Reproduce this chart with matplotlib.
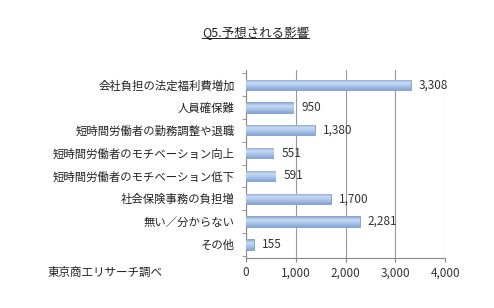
import numpy as np
import matplotlib
matplotlib.use('Agg')
import matplotlib.pyplot as plt
from matplotlib.lines import Line2D

plt.rcParams['font.family'] = ['Noto Sans CJK JP', 'DejaVu Sans']

# Data
categories = ['会社負担の法定福利費増加', '人員確保難', '短時間労働者の勤務調整や退職',
              '短時間労働者のモチベーション向上', '短時間労働者のモチベーション低下',
              '社会保険事務の負担増', '無い／分からない', 'その他']
values = [3308, 950, 1380, 551, 591, 1700, 2281, 155]
xticks = [0, 1000, 2000, 3000, 4000]
title = 'Q5.予想される影響'
source = '東京商工リサーチ調べ'

fig = plt.figure(figsize=(4.94, 3.08), dpi=100, facecolor='white')
ax = fig.add_axes([0.498, 0.162, 0.403, 0.611])

y = np.arange(len(categories))
bars = ax.barh(y, values, height=0.45, color='#A4BFE6', edgecolor='#7D9CCB',
               linewidth=0.6, zorder=3)

# vertical gradient on each bar
grad = np.linspace(0, 1, 64).reshape(-1, 1)
cmap = matplotlib.colors.LinearSegmentedColormap.from_list(
    'bar', ['#7F9FD0', '#C9DAF2', '#A9C3E8', '#87A6D6'])
for b in bars:
    x0, y0 = b.get_x(), b.get_y()
    w, h = b.get_width(), b.get_height()
    im = ax.imshow(grad, cmap=cmap, aspect='auto', extent=[x0, x0 + w, y0 + h, y0],
                   zorder=3.5, origin='upper')
    im.set_clip_path(b)

for yi, v in zip(y, values):
    ax.text(v + 160, yi, f'{v:,}', va='center', ha='left', fontsize=8.5,
            color='#333333')

ax.set_xlim(0, 4000)
ax.set_ylim(len(categories) - 0.4, -0.65)
ax.set_xticks(xticks)
ax.set_xticklabels([f'{t:,}' for t in xticks], fontsize=8.5, color='#333333')
ax.set_yticks(y)
ax.set_yticklabels(categories, fontsize=8.2, color='#222222')
ax.set_yticks(np.arange(len(categories) + 1) - 0.5, minor=True)
ax.tick_params(axis='y', which='major', length=0, pad=8)
ax.tick_params(axis='y', which='minor', length=3, color='#888888')
ax.tick_params(axis='x', length=3, color='#888888', pad=3)
ax.grid(axis='x', color='#999999', linewidth=0.8, zorder=0)
for side in ['top', 'right']:
    ax.spines[side].set_visible(False)
for side in ['left', 'bottom']:
    ax.spines[side].set_color('#888888')
    ax.spines[side].set_linewidth(0.8)

t = fig.text(0.517, 0.893, title, ha='center', va='center', fontsize=9,
             color='#222222')
fig.text(0.097, 0.117, source, ha='left', va='center', fontsize=8.3,
         color='#222222')

# underline the title
fig.canvas.draw()
bb = t.get_window_extent().transformed(fig.transFigure.inverted())
fig.add_artist(Line2D([bb.x0, bb.x1], [bb.y0 + 0.004, bb.y0 + 0.004],
                      transform=fig.transFigure, color='#222222', linewidth=0.7))

fig.savefig('out.png', dpi=100)
